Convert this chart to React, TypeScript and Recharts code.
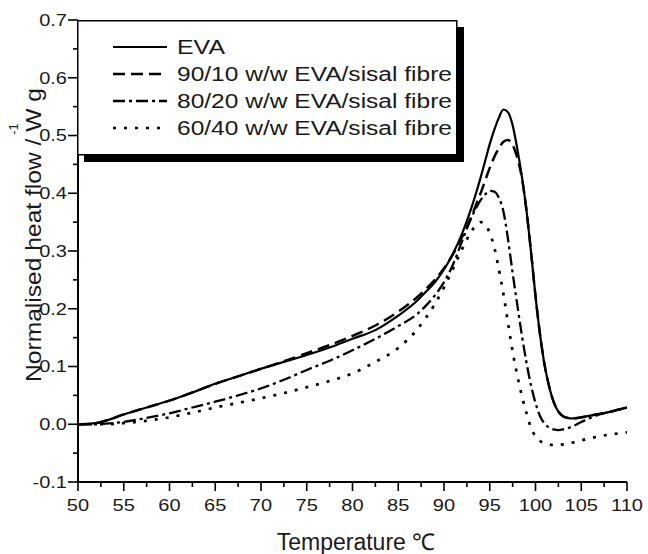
import React from 'react';
import { LineChart, Line, XAxis, YAxis, Legend } from 'recharts';

// Temperature (°C)
const temperature = [
  50, 52, 53, 55, 57.5, 60, 62.5, 65, 67.5, 70, 72.5, 75, 77.5, 80, 82.5, 85,
  87, 88, 89, 90, 91, 92, 93, 93.5, 94, 94.5, 95, 95.5, 96, 96.5, 97, 97.5, 98,
  98.5, 99, 99.5, 100, 100.5, 101, 101.5, 102, 102.5, 103, 103.5, 104, 105, 106,
  107, 108, 109, 110,
];

// Normalised heat flow (W g^-1)
const eva = [
  0.0, 0.002, 0.006, 0.017, 0.029, 0.041, 0.055, 0.07, 0.083, 0.096, 0.108, 0.12,
  0.133, 0.148, 0.163, 0.188, 0.213, 0.229, 0.246, 0.268, 0.296, 0.331, 0.375,
  0.4, 0.427, 0.456, 0.485, 0.51, 0.531, 0.545, 0.54, 0.518, 0.478, 0.43, 0.372,
  0.3, 0.222, 0.155, 0.102, 0.065, 0.038, 0.022, 0.014, 0.011, 0.01, 0.012,
  0.015, 0.018, 0.021, 0.025, 0.029,
];
const eva9010 = [
  0.0, 0.002, 0.006, 0.017, 0.029, 0.041, 0.055, 0.07, 0.083, 0.096, 0.109,
  0.123, 0.137, 0.153, 0.171, 0.195, 0.219, 0.234, 0.25, 0.27, 0.295, 0.325,
  0.36, 0.38, 0.4, 0.422, 0.444, 0.463, 0.478, 0.489, 0.492, 0.484, 0.462, 0.428,
  0.372, 0.3, 0.222, 0.155, 0.102, 0.065, 0.038, 0.022, 0.014, 0.011, 0.01,
  0.012, 0.015, 0.018, 0.021, 0.025, 0.029,
];
const eva8020 = [
  0.0, 0.0, 0.001, 0.004, 0.011, 0.019, 0.029, 0.039, 0.05, 0.062, 0.077, 0.094,
  0.11, 0.128, 0.148, 0.17, 0.19, 0.205, 0.223, 0.246, 0.277, 0.318, 0.358,
  0.374, 0.388, 0.398, 0.404, 0.403, 0.392, 0.368, 0.32, 0.262, 0.208, 0.155,
  0.108, 0.068, 0.037, 0.014, 0.001, -0.006, -0.009, -0.01, -0.009, -0.007,
  -0.004, 0.004, 0.011, 0.017, 0.021, 0.025, 0.029,
];
const eva6040 = [
  0.0, 0.0, 0.0, 0.002, 0.006, 0.012, 0.02, 0.029, 0.037, 0.045, 0.054, 0.064,
  0.075, 0.088, 0.108, 0.132, 0.163, 0.184, 0.208, 0.237, 0.27, 0.304, 0.334,
  0.345, 0.35, 0.346, 0.331, 0.306, 0.268, 0.225, 0.175, 0.126, 0.085, 0.05,
  0.02, -0.006, -0.021, -0.029, -0.033, -0.035, -0.036, -0.036, -0.035, -0.034,
  -0.032, -0.028, -0.024, -0.021, -0.018, -0.016, -0.014,
];

const seriesNames = [
  'EVA',
  '90/10 w/w EVA/sisal fibre',
  '80/20 w/w EVA/sisal fibre',
  '60/40 w/w EVA/sisal fibre',
];

const xTicks = [
  50, 52.5, 55, 57.5, 60, 62.5, 65, 67.5, 70, 72.5, 75, 77.5, 80, 82.5, 85, 87.5,
  90, 92.5, 95, 97.5, 100, 102.5, 105, 107.5, 110,
];
const xTickLabels = [
  '50', '', '55', '', '60', '', '65', '', '70', '', '75', '', '80', '', '85', '',
  '90', '', '95', '', '100', '', '105', '', '110',
];
const yTicks = [
  -0.1, -0.05, 0, 0.05, 0.1, 0.15, 0.2, 0.25, 0.3, 0.35, 0.4, 0.45, 0.5, 0.55,
  0.6, 0.65, 0.7,
];
const yTickLabels = [
  '-0.1', '', '0.0', '', '0.1', '', '0.2', '', '0.3', '', '0.4', '', '0.5', '',
  '0.6', '', '0.7',
];

const rows = temperature.map((t, i) => ({
  t,
  s0: eva[i],
  s1: eva9010[i],
  s2: eva8020[i],
  s3: eva6040[i],
}));

const styles = [
  { key: 's0', dash: undefined as string | undefined, width: 2.2 },
  { key: 's1', dash: '12 6', width: 2.5 },
  { key: 's2', dash: '12 4 3 4', width: 2.3 },
  { key: 's3', dash: '3 8', width: 2.7 },
];

const FONT = '"Liberation Sans", Arial, Helvetica, sans-serif';
const stretch = (origin: string) => ({
  transformBox: 'fill-box' as const,
  transformOrigin: origin,
  transform: 'scaleX(1.25)',
});

const YTick = (props: any) => {
  const { x, y, index } = props;
  const label = yTickLabels[index] ?? '';
  const major = label !== '';
  return (
    <g>
      <line x1={x} x2={x - (major ? 10 : 5)} y1={y} y2={y} stroke="#000" strokeWidth={1.6} />
      {major && (
        <text
          x={x - 11}
          y={y}
          dy="0.36em"
          textAnchor="end"
          fontSize={16}
          fontFamily={FONT}
          fill="#1a1a1a"
          style={stretch('right center')}
        >
          {label}
        </text>
      )}
    </g>
  );
};

const XTick = (props: any) => {
  const { x, y, index } = props;
  const label = xTickLabels[index] ?? '';
  const major = label !== '';
  return (
    <g>
      <line x1={x} x2={x} y1={y} y2={y + (major ? 9 : 5)} stroke="#000" strokeWidth={1.6} />
      {major && (
        <text
          x={x}
          y={y + 29}
          textAnchor="middle"
          fontSize={16}
          fontFamily={FONT}
          fill="#1a1a1a"
          style={stretch('center')}
        >
          {label}
        </text>
      )}
    </g>
  );
};

const XTitle = () => (
  <text x={356} y={550} textAnchor="middle" fontSize={23} fontFamily={FONT} fill="#1a1a1a">
    Temperature ℃
  </text>
);

const YTitle = () => (
  <g>
    <text
      transform="rotate(-90)"
      x={-235}
      y={41}
      textAnchor="middle"
      fontSize={22}
      fontFamily={FONT}
      fill="#1a1a1a"
      textLength={294}
      lengthAdjust="spacingAndGlyphs"
    >
      Normalised heat flow / W g
    </text>
    <text
      transform="rotate(-90)"
      x={-129}
      y={18}
      textAnchor="middle"
      fontSize={13}
      fontFamily={FONT}
      fill="#1a1a1a"
    >
      -1
    </text>
  </g>
);

const LegendBox = () => {
  const baselines = [34, 61, 88, 115];
  const lengths = [48, 275, 275, 275];
  return (
    <svg width={392} height={146} style={{ display: 'block' }}>
      <rect x={7} y={7} width={380} height={135} fill="#000" />
      <rect x={0.75} y={0.75} width={379} height={134} fill="#fff" stroke="#000" strokeWidth={1.5} />
      {seriesNames.map((name, i) => (
        <g key={name}>
          <line
            x1={36}
            x2={90}
            y1={baselines[i] - 7}
            y2={baselines[i] - 7}
            stroke="#000"
            strokeWidth={styles[i].width}
            strokeDasharray={styles[i].dash}
          />
          <text
            x={100}
            y={baselines[i]}
            fontSize={19.5}
            fontFamily={FONT}
            fill="#1a1a1a"
            textLength={lengths[i]}
            lengthAdjust="spacingAndGlyphs"
          >
            {name}
          </text>
        </g>
      ))}
    </svg>
  );
};

export default function App() {
  return (
    <div style={{ position: 'absolute', left: 0, top: 0, width: 648, height: 554, background: '#fff' }}>
      <LineChart
        width={648}
        height={554}
        data={rows}
        margin={{ top: 20, right: 21, left: 18, bottom: 22 }}
        style={{ fontFamily: FONT }}
      >
        <XAxis
          dataKey="t"
          type="number"
          domain={[50, 110]}
          ticks={xTicks}
          interval={0}
          height={50}
          tickSize={0}
          tickMargin={0}
          tickLine={false}
          tick={<XTick />}
          axisLine={{ stroke: '#000', strokeWidth: 2 }}
          allowDataOverflow
          label={<XTitle />}
        />
        <XAxis
          xAxisId="top"
          orientation="top"
          dataKey="t"
          type="number"
          domain={[50, 110]}
          height={0}
          tick={false}
          tickLine={false}
          axisLine={{ stroke: '#000', strokeWidth: 1.5 }}
        />
        <YAxis
          type="number"
          domain={[-0.1, 0.7]}
          ticks={yTicks}
          interval={0}
          width={60}
          tickSize={0}
          tickMargin={0}
          tickLine={false}
          tick={<YTick />}
          axisLine={{ stroke: '#000', strokeWidth: 2 }}
          allowDataOverflow
          label={<YTitle />}
        />
        <YAxis
          yAxisId="right"
          orientation="right"
          type="number"
          domain={[-0.1, 0.7]}
          width={0}
          tick={false}
          tickLine={false}
          axisLine={{ stroke: '#000', strokeWidth: 1.5 }}
        />
        {styles.map((s, i) => (
          <Line
            key={s.key}
            dataKey={s.key}
            name={seriesNames[i]}
            type="monotone"
            stroke="#000"
            strokeWidth={s.width}
            strokeDasharray={s.dash}
            dot={false}
            activeDot={false}
            isAnimationActive={false}
          />
        ))}
        <Legend
          layout="vertical"
          align="center"
          verticalAlign="middle"
          content={() => <LegendBox />}
          wrapperStyle={{ left: 77, top: 20, width: 392, height: 146 }}
        />
      </LineChart>
    </div>
  );
}
